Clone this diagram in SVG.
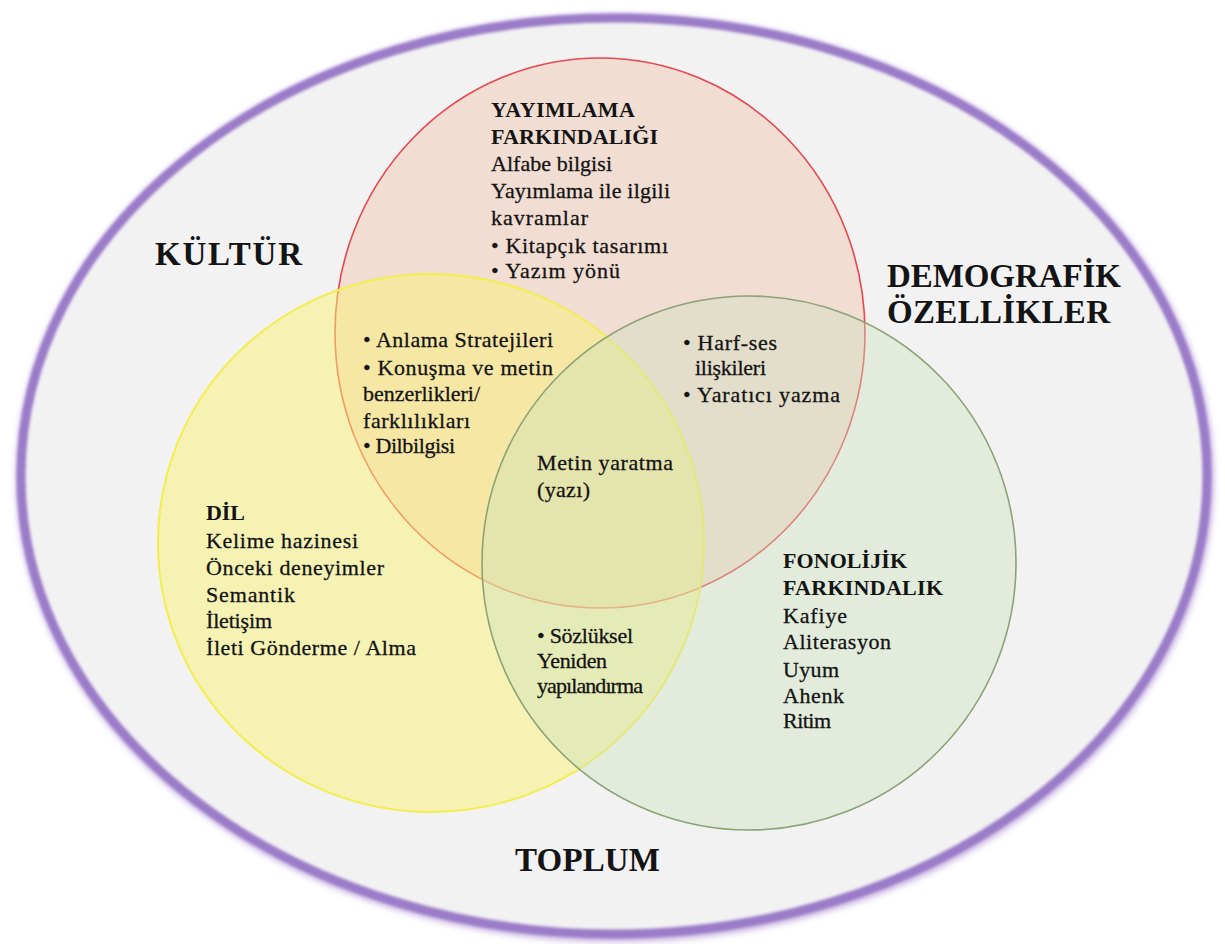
<svg xmlns="http://www.w3.org/2000/svg" width="1225" height="944" viewBox="0 0 1225 944">
  <defs>
    <filter id="soft" x="-5%" y="-5%" width="110%" height="110%">
      <feGaussianBlur stdDeviation="1.6"/>
    </filter>
    <filter id="shadow" x="-5%" y="-5%" width="110%" height="110%">
      <feGaussianBlur stdDeviation="3"/>
    </filter>
    <style>
      text { font-family: "Liberation Serif", "Times New Roman", serif; fill: #141414; }
      .t { font-size: 22px; stroke: #141414; stroke-width: 0.3; }
      .h { font-size: 22px; font-weight: bold; }
      .big { font-size: 33px; font-weight: bold; }
    </style>
  </defs>

  <rect width="1225" height="944" fill="#ffffff"/>

  <!-- outer context ellipse -->
  <g id="context">
    <ellipse cx="615" cy="478" rx="593" ry="458" fill="none" stroke="#c9b6e3" stroke-width="12" filter="url(#shadow)"/>
    <ellipse cx="613" cy="474" rx="593" ry="458" fill="#f2f2f2"/>
    <ellipse cx="614" cy="476" rx="593" ry="458" fill="none" stroke="#9a7bc8" stroke-width="9" filter="url(#soft)"/>
    <text class="big" x="155" y="265" textLength="147">KÜLTÜR</text>
    <text class="big" x="887" y="287" textLength="234">DEMOGRAFİK</text>
    <text class="big" x="887" y="323" textLength="223">ÖZELLİKLER</text>
    <text class="big" x="515" y="871" textLength="145">TOPLUM</text>
  </g>

  <!-- publication awareness circle -->
  <g id="yayimlama">
    <ellipse cx="600" cy="333" rx="265" ry="275" fill="rgb(242,190,162)" fill-opacity="0.4" stroke="#e8474f" stroke-width="1.6"/>
    <text class="h" x="491" y="117" textLength="144">YAYIMLAMA</text>
    <text class="h" x="491" y="144" textLength="167">FARKINDALIĞI</text>
    <text class="t" x="491" y="171" textLength="121">Alfabe bilgisi</text>
    <text class="t" x="491" y="198" textLength="179">Yayımlama ile ilgili</text>
    <text class="t" x="491" y="225" textLength="97">kavramlar</text>
    <text class="t" x="491" y="253" textLength="177">• Kitapçık tasarımı</text>
    <text class="t" x="491" y="278" textLength="129">• Yazım yönü</text>
  </g>

  <!-- language circle -->
  <g id="dil">
    <ellipse cx="431" cy="543" rx="273" ry="269" fill="rgb(250,242,118)" fill-opacity="0.5" stroke="#f3ee4e" stroke-width="2"/>
    <text class="h" x="206" y="520" textLength="39">DİL</text>
    <text class="t" x="206" y="548" textLength="152">Kelime hazinesi</text>
    <text class="t" x="206" y="575" textLength="178">Önceki deneyimler</text>
    <text class="t" x="206" y="602" textLength="89">Semantik</text>
    <text class="t" x="206" y="628" textLength="66">İletişim</text>
    <text class="t" x="206" y="655" textLength="210">İleti Gönderme / Alma</text>
  </g>

  <!-- phonological awareness circle -->
  <g id="fonolojik">
    <circle cx="749" cy="563" r="267" fill="rgb(202,224,187)" fill-opacity="0.4" stroke="#8ca376" stroke-width="1.6"/>
    <text class="h" x="783" y="568" textLength="124">FONOLİJİK</text>
    <text class="h" x="783" y="595" textLength="160">FARKINDALIK</text>
    <text class="t" x="783" y="623" textLength="64">Kafiye</text>
    <text class="t" x="783" y="649" textLength="108">Aliterasyon</text>
    <text class="t" x="783" y="677" textLength="56">Uyum</text>
    <text class="t" x="783" y="703" textLength="61">Ahenk</text>
    <text class="t" x="783" y="728" textLength="48">Ritim</text>
  </g>

  <!-- overlap: publication + language -->
  <g id="anlama">
    <text class="t" x="363" y="347" textLength="190">• Anlama Stratejileri</text>
    <text class="t" x="363" y="375" textLength="190">• Konuşma ve metin</text>
    <text class="t" x="363" y="401" textLength="117">benzerlikleri/</text>
    <text class="t" x="363" y="428" textLength="107">farklılıkları</text>
    <text class="t" x="363" y="453" textLength="92">• Dilbilgisi</text>
  </g>

  <!-- overlap: publication + phonological -->
  <g id="harf-ses">
    <text class="t" x="683" y="350" textLength="94">• Harf-ses</text>
    <text class="t" x="695" y="375" textLength="71">ilişkileri</text>
    <text class="t" x="683" y="402" textLength="157">• Yaratıcı yazma</text>
  </g>

  <!-- overlap: all three -->
  <g id="metin">
    <text class="t" x="537" y="470" textLength="136">Metin yaratma</text>
    <text class="t" x="537" y="497" textLength="53">(yazı)</text>
  </g>

  <!-- overlap: language + phonological -->
  <g id="sozluksel">
    <text class="t" x="537" y="643" textLength="96">• Sözlüksel</text>
    <text class="t" x="537" y="668" textLength="70">Yeniden</text>
    <text class="t" x="537" y="693" textLength="106">yapılandırma</text>
  </g>
</svg>
